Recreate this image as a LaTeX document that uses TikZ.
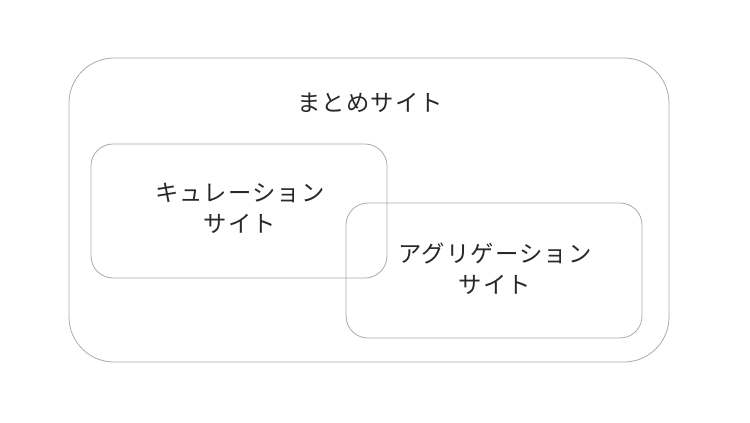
\documentclass[tikz,border=0pt]{standalone}
\usepackage{fontspec}
\newfontfamily\jpfont[LetterSpace=5]{Noto Sans CJK JP}
\tikzset{every picture/.style={line width=0.6pt}}
\tikzset{
  sitebox/.style={draw={rgb, 255:red, 170; green, 170; blue, 170}},
  sitelabel/.style={inner sep=0.75pt, align=center, text={rgb, 255:red, 40; green, 40; blue, 40}, font=\jpfont\fontsize{17.5}{23.25}\selectfont}
}

\begin{document}
\begin{tikzpicture}[x=0.75pt,y=0.75pt,yscale=-1,xscale=1]
\useasboundingbox (0,0) rectangle (750,422);

\draw  [sitebox, rounded corners=33.75pt]  (69,58) rectangle (669,362) ;
\draw  [sitebox, rounded corners=16.5pt]  (91,144) rectangle (387,278) ;
\draw  [sitebox, rounded corners=16.5pt]  (346,203) rectangle (642,338) ;

\node [sitelabel] (matome) at (370,103) {まとめサイト};
\node [sitelabel] (curation) at (240,208.5) {キュレーション\\サイト};
\node [sitelabel] (aggregation) at (495,268.5) {アグリゲーション\\サイト};

\end{tikzpicture}
\end{document}
